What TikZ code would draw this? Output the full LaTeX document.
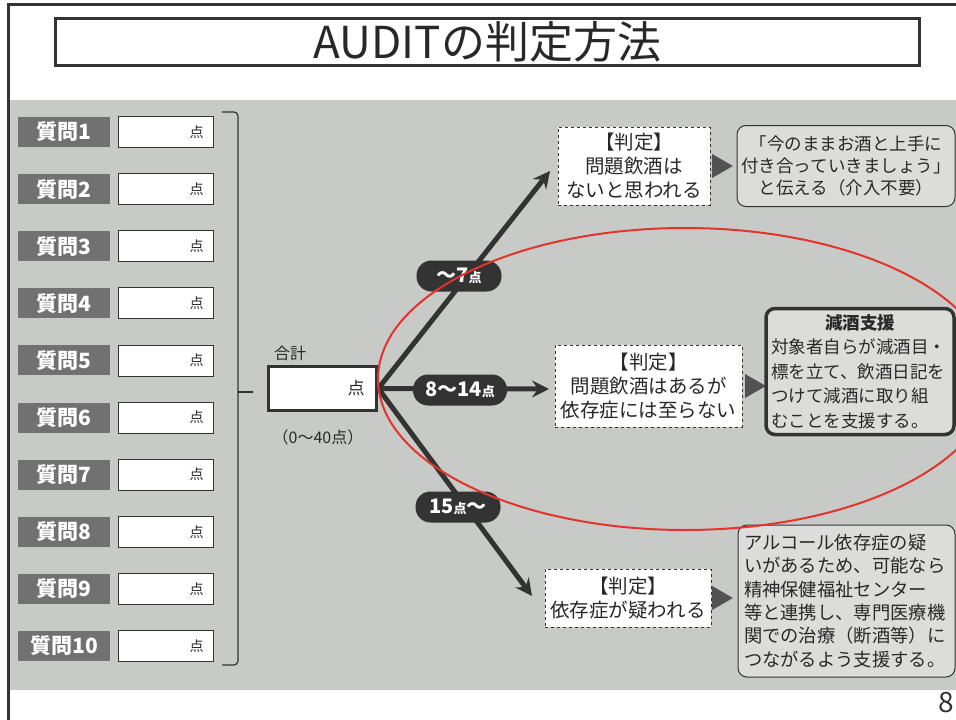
\documentclass[tikz,border=0pt]{standalone}
\usepackage{fontspec}
\setmainfont{Noto Sans CJK JP}
\usetikzlibrary{arrows.meta,shapes.geometric}
\definecolor{bggray}{RGB}{200,202,199}
\definecolor{labgray}{RGB}{112,113,112}
\definecolor{ink}{RGB}{50,51,50}
\definecolor{txt}{RGB}{40,40,40}
\definecolor{outfill}{RGB}{220,221,219}
\definecolor{redc}{RGB}{226,52,45}
\newcommand{\fsz}[2]{\fontsize{#1pt}{#2pt}\selectfont}
\tikzset{
  qlabel/.style={fill=labgray, text=white, font=\fsz{21}{24}\bfseries, minimum width=92pt, minimum height=30pt, inner sep=0pt},
  qbox/.style={fill=white, draw=ink, line width=0.8pt, minimum width=95pt, minimum height=31pt, text width=76pt, align=right, inner sep=0pt, font=\fsz{14}{16}, text=txt},
  sumbox/.style={fill=white, draw=ink, line width=3.5pt, minimum width=108pt, minimum height=44pt, text width=84pt, align=right, inner sep=0pt, font=\fsz{17}{20}, text=txt},
  plain/.style={text=txt, inner sep=0pt},
  branch/.style={draw=ink, line width=5pt, -{Stealth[length=17pt,width=17pt,inset=6pt]}},
  pill/.style={fill=ink, text=white, rounded corners=15pt, minimum height=31pt, inner sep=0pt, font=\fsz{20}{22}\bfseries},
  judge/.style={fill=white, draw=ink, dashed, line width=0.8pt, align=center, inner sep=0pt, text=txt, font=\fsz{19.5}{24}},
  outbox/.style={fill=outfill, draw=ink, line width=1pt, rounded corners=9pt, inner sep=0pt, text=txt},
  tri/.style={isosceles triangle, isosceles triangle apex angle=60, fill=ink!85, inner sep=0pt, minimum height=11pt, minimum width=24pt},
}
\begin{document}
\begin{tikzpicture}[x=1pt,y=-1pt]
\useasboundingbox (0,0) rectangle (956,720);
\fill[white] (0,0) rectangle (956,720);
\fill[bggray] (10,100) rectangle (956,690);
\draw[ink, line width=3pt] (8,722) -- (8,4) -- (958,4);

% title
\node[draw=ink, line width=2.5pt, fill=white, minimum width=864pt, minimum height=47pt, inner sep=0pt, text=txt, font=\fsz{44}{46}] (title) at (487.5,42) {AUDITの判定方法};

% questions
\foreach \i in {1,...,10} {
  \pgfmathsetmacro{\yy}{132+(\i-1)*57.1}
  \node[qlabel] (q\i) at (64,\yy) {質問\i};
  \node[qbox] (a\i) at (165.5,\yy) {点};
}

% bracket
\coordinate (bt) at (222,112);
\coordinate (bb) at (222,665);
\coordinate (bm) at (238,392);
\coordinate (bk) at (253,392);
\draw[ink, line width=1.2pt, rounded corners=4pt] (bt) -- (238,112) -- (238,665) -- (bb);
\draw[ink, line width=1.2pt] (bm) -- (bk);

% sum
\node[sumbox] (sum) at (322.5,388.5) {点};
\node[plain, font=\fsz{16}{18}] (sumlab) at (290,353) {合計};
\node[plain, font=\fsz{16}{18}] (range) at (318,437) {（0〜40点）};

% branch targets
\coordinate (e1) at (550,171);
\coordinate (e2) at (549,389);
\coordinate (e3) at (532,596);
\draw[branch] (sum.east) -- (e1);
\draw[branch] (sum.east) -- (e2);
\draw[branch] (sum.east) -- (e3);

% pills
\node[pill, minimum width=85pt] (p1) at (459,276) {〜7{\fsz{13}{14}点}};
\node[pill, minimum width=94pt] (p2) at (460,390) {8〜14{\fsz{13}{14}点}};
\node[pill, minimum width=85pt] (p3) at (458,507) {15{\fsz{13}{14}点}〜};

% judgments
\node[judge, minimum width=152pt, minimum height=78pt] (j1) at (634,166) {【判定】\\問題飲酒は\\ないと思われる};
\node[judge, minimum width=187pt, minimum height=82pt] (j2) at (648.5,386) {【判定】\\問題飲酒はあるが\\依存症には至らない};
\node[judge, minimum width=166pt, minimum height=58pt] (j3) at (628,598) {【判定】\\依存症が疑われる};

% small triangles
\node[tri] (t1) at (719,166) {};
\node[tri] (t2) at (752,386) {};
\node[tri] (t3) at (719,598) {};

% outcomes
\node[outbox, minimum width=218pt, minimum height=81pt, align=center, font=\fsz{17.5}{22}] (o1) at (846,166) {「今のままお酒と上手に\\付き合っていきましょう」\\と伝える（介入不要）};
\node[outbox, line width=3.5pt, minimum width=188pt, minimum height=126pt, text width=178pt, align=left, font=\fsz{17.5}{24.5}] (o2) at (860,371.5) {\makebox[\linewidth][c]{\bfseries 減酒支援}\\対象者自らが減酒目・\\標を立て、飲酒日記を\\つけて減酒に取り組\\むことを支援する。};
\node[outbox, minimum width=217pt, minimum height=152pt, text width=205pt, align=left, font=\fsz{18.3}{23.3}] (o3) at (846.5,601) {アルコール依存症の疑\\いがあるため、可能なら\\精神保健福祉センター\\等と連携し、専門医療機\\関での治療（断酒等）に\\つながるよう支援する。};

% page number
\node[plain, anchor=north east, font=\fsz{28}{30}, text=ink] (pg) at (954,692) {8};

% red ellipse
\begin{scope}
\clip (0,0) rectangle (956,720);
\draw[redc, line width=2pt] (685,379) ellipse [x radius=307pt, y radius=151pt];
\end{scope}
\end{tikzpicture}
\end{document}
